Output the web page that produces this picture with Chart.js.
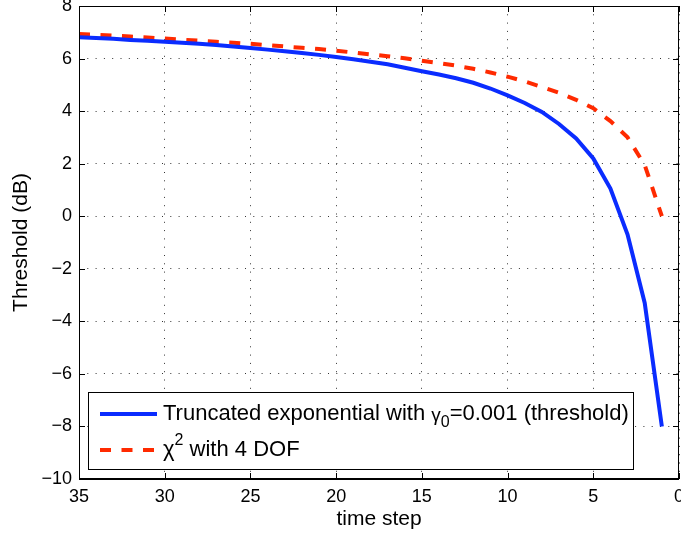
<!DOCTYPE html>
<html>
<head>
<meta charset="utf-8">
<script src="https://cdn.jsdelivr.net/npm/chart.js@4.4.0/dist/chart.umd.min.js"></script>
<style>
  html, body { margin: 0; padding: 0; background: #fff; }
  #wrap { width: 681px; height: 536px; }
</style>
</head>
<body>
<div id="wrap"><canvas id="c" width="681" height="536"></canvas></div>
<script>
// ---- data ----
const timeSteps = [35,34,33,32,31,30,29,28,27,26,25,24,23,22,21,20,19,18,17,16,15,14,13,12,11,10,9,8,7,6,5,4,3,2,1];
const truncExp = [6.81,6.78,6.75,6.71,6.68,6.64,6.60,6.56,6.52,6.46,6.40,6.34,6.28,6.21,6.14,6.06,5.97,5.88,5.78,5.65,5.52,5.39,5.25,5.08,4.86,4.60,4.31,3.97,3.51,2.96,2.20,1.05,-0.70,-3.30,-8.00];
const chiSq = [6.93,6.90,6.87,6.84,6.80,6.76,6.72,6.68,6.64,6.60,6.56,6.51,6.46,6.41,6.36,6.30,6.23,6.16,6.09,6.01,5.92,5.83,5.73,5.61,5.47,5.31,5.13,4.92,4.70,4.43,4.11,3.62,3.00,1.95,0.00];
const xTickValues = [35,30,25,20,15,10,5,0];
const yTickValues = [8,6,4,2,0,-2,-4,-6,-8,-10];
const legendRows = [
  {parts:[['Truncated exponential with ', 'n'], ['\u03B3', 'g'], ['0', 'sub'], ['=0.001 (threshold)', 'n']]},
  {parts:[['\u03C7', 'n'], ['2', 'sup'], [' with 4 DOF', 'n']]}
];

const BLUE = '#0a2cff';
const RED = '#ff2a00';
const FONT = '"Liberation Sans", Arial, Helvetica, sans-serif';

const toXY = (xs, ys) => xs.map((v, i) => ({x: v, y: ys[i]}));

const frame = {
  id: 'frame',
  afterDraw(chart) {
    const {ctx, chartArea: a, scales: {x, y}} = chart;
    ctx.save();
    ctx.setLineDash([]);
    ctx.strokeStyle = '#000';
    ctx.lineWidth = 1;
    ctx.beginPath();
    x.ticks.forEach(t => {
      const px = Math.round(x.getPixelForValue(t.value)) + 0.5;
      ctx.moveTo(px, a.bottom); ctx.lineTo(px, a.bottom - 6);
      ctx.moveTo(px, a.top); ctx.lineTo(px, a.top + 6);
    });
    y.ticks.forEach(t => {
      const py = Math.round(y.getPixelForValue(t.value)) + 0.5;
      ctx.moveTo(a.left, py); ctx.lineTo(a.left + 6, py);
      ctx.moveTo(a.right, py); ctx.lineTo(a.right - 6, py);
    });
    ctx.stroke();
    // box
    ctx.beginPath();
    ctx.moveTo(a.left + 0.5, a.bottom); ctx.lineTo(a.left + 0.5, a.top + 0.5);
    ctx.lineTo(a.right - 0.5, a.top + 0.5); ctx.lineTo(a.right - 0.5, a.bottom);
    ctx.stroke();
    ctx.lineWidth = 2;
    ctx.beginPath();
    ctx.moveTo(a.left, a.bottom); ctx.lineTo(a.right, a.bottom);
    ctx.stroke();

    // legend
    const L = a.left + 9, T = a.top + 386, W = 546, H = 78;
    ctx.fillStyle = '#fff';
    ctx.fillRect(L, T, W, H);
    ctx.lineWidth = 1;
    ctx.strokeStyle = '#000';
    ctx.strokeRect(L + 0.5, T + 0.5, W - 1, H - 1);
    const ds = chart.data.datasets;
    const rowY = [T + 22, T + 58];
    legendRows.forEach((row, i) => {
      const d = ds[i];
      ctx.save();
      ctx.strokeStyle = d.borderColor;
      ctx.lineWidth = d.borderWidth;
      ctx.setLineDash(d.borderDash || []);
      ctx.beginPath();
      ctx.moveTo(L + 12, rowY[i]); ctx.lineTo(L + 69, rowY[i]);
      ctx.stroke();
      ctx.restore();
      let tx = L + 75;
      ctx.fillStyle = '#000';
      ctx.textBaseline = 'middle';
      ctx.textAlign = 'left';
      row.parts.forEach(([txt, kind]) => {
        let size = 22, dy = 0;
        if (kind === 'g') { size = 19; dy = 2; }
        if (kind === 'sub') { size = 16; dy = 9; }
        if (kind === 'sup') { size = 16; dy = -9; }
        ctx.font = size + 'px ' + FONT;
        ctx.fillText(txt, tx, rowY[i] + dy);
        tx += ctx.measureText(txt).width;
      });
    });
    ctx.restore();
  }
};

new Chart(document.getElementById('c'), {
  type: 'line',
  data: {
    datasets: [
      {label: 'Truncated exponential with \u03B30=0.001 (threshold)', data: toXY(timeSteps, truncExp),
       borderColor: BLUE, borderWidth: 4, pointRadius: 0, tension: 0, fill: false},
      {label: '\u03C72 with 4 DOF', data: toXY(timeSteps, chiSq),
       borderColor: RED, borderWidth: 4, borderDash: [11, 10.5], pointRadius: 0, tension: 0, fill: false}
    ]
  },
  options: {
    responsive: false,
    animation: false,
    devicePixelRatio: 1,
    layout: {padding: {top: 6, right: 2, left: 0, bottom: 0}},
    plugins: {legend: {display: false}, tooltip: {enabled: false}},
    scales: {
      x: {
        type: 'linear', reverse: true, min: 0, max: 35,
        afterBuildTicks(s) { s.ticks = xTickValues.map(v => ({value: v})); },
        afterFit(s) { s.height = 57; s.paddingLeft = 0; s.paddingRight = 0; },
        ticks: {color: '#000', padding: 7, maxRotation: 0, font: {family: FONT, size: 18}},
        grid: {color: '#333', lineWidth: 1, drawTicks: false},
        border: {display: false, dash: [1, 7.3]},
        title: {display: true, text: 'time step', color: '#000', font: {family: FONT, size: 21}, padding: {top: 0, bottom: 4}}
      },
      y: {
        type: 'linear', min: -10, max: 8,
        afterBuildTicks(s) { s.ticks = yTickValues.map(v => ({value: v})); },
        afterFit(s) { s.width = 79; s.paddingTop = 0; s.paddingBottom = 0; },
        ticks: {color: '#000', padding: 7, font: {family: FONT, size: 18}, callback: v => (v < 0 ? '\u2212' + Math.abs(v) : String(v))},
        grid: {color: '#333', lineWidth: 1, drawTicks: false},
        border: {display: false, dash: [1, 7.3]},
        title: {display: true, text: 'Threshold (dB)', color: '#000', font: {family: FONT, size: 21}, padding: {top: 9, bottom: 0}}
      }
    }
  },
  plugins: [frame]
});
</script>
</body>
</html>
